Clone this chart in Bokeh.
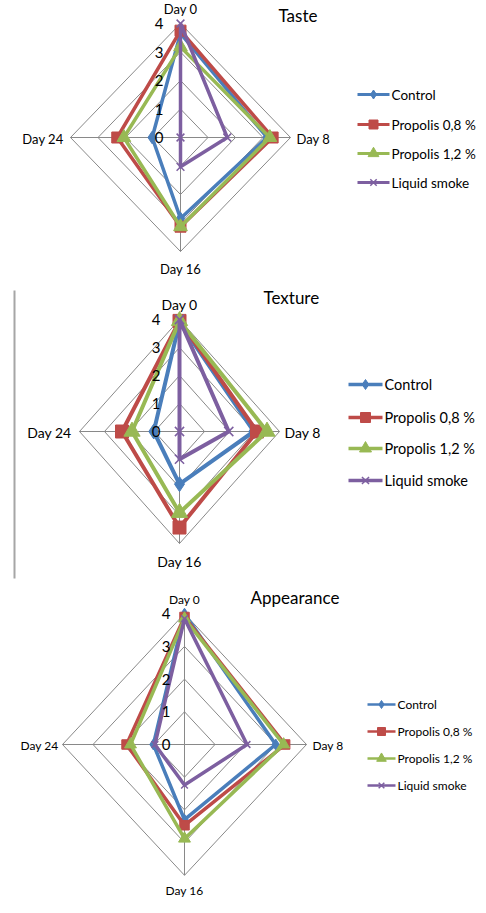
import numpy as np
from bokeh.plotting import figure
from bokeh.layouts import column
from bokeh.models import Range1d
from bokeh.core.properties import value
from bokeh.embed import file_html
from bokeh.resources import INLINE

# ---------------- data ----------------
axes_labels = ["Day 0", "Day 8", "Day 16", "Day 24"]
series_names = ["Control", "Propolis 0,8 %", "Propolis 1,2 %", "Liquid smoke"]
tick_labels = ["0", "1", "2", "3", "4"]

taste_control = [3.65, 3.15, 2.84, 1.03]
taste_propolis08 = [3.75, 3.35, 3.13, 2.30]
taste_propolis12 = [3.18, 3.25, 3.13, 2.06]
taste_smoke = [4.0, 1.70, 1.03, 0.0]

texture_control = [3.9, 2.97, 1.88, 1.03]
texture_propolis08 = [3.95, 3.10, 3.43, 2.30]
texture_propolis12 = [3.95, 3.50, 2.90, 1.90]
texture_smoke = [4.0, 1.97, 0.99, 0.0]

appear_control = [4.0, 2.99, 2.30, 1.02]
appear_propolis08 = [3.9, 3.30, 2.47, 1.90]
appear_propolis12 = [3.85, 3.25, 2.88, 1.77]
appear_smoke = [3.85, 2.05, 1.24, 0.97]

colors = ["#4A7EBB", "#BE4B48", "#98B954", "#7D5FA0"]
markers = ["diamond", "square", "triangle", "x"]
FONT = "Lato"
GRID = "#898989"
W = 486
OFF = 0  # page offset of the layout


def polar(vals):
    ang = np.pi / 2 - np.arange(len(vals)) * np.pi / 2
    v = np.asarray(vals, dtype=float)
    x = np.round(v * np.cos(ang), 9)
    y = np.round(v * np.sin(ang), 9)
    return x, y


def make_chart(title, data, top, height, cx, cy, sx, sy, cfg):
    def X(px):
        return (px - cx) / sx

    def Y(py):
        return (cy - py) / sy

    p = figure(width=W, height=height, output_backend="svg", toolbar_location=None,
               x_range=Range1d(X(OFF), X(OFF + W)), y_range=Range1d(Y(top + height), Y(top)),
               min_border=0)
    p.axis.visible = False
    p.grid.visible = False
    p.outline_line_color = None
    p.background_fill_color = "white"

    # grid diamonds
    for lv in range(1, 5):
        gx, gy = polar([lv] * 4)
        p.line(list(gx) + [gx[0]], list(gy) + [gy[0]], line_color=GRID, line_width=1)
    sx_, sy_ = polar([4] * 4)
    for i in range(4):
        p.line([0, sx_[i]], [0, sy_[i]], line_color=GRID, line_width=1)

    # series
    lw = cfg["lw"]
    for k, vals in enumerate(data):
        x, y = polar(vals)
        p.line(list(x) + [x[0]], list(y) + [y[0]], line_color=colors[k], line_width=lw,
               line_join="round")
        if markers[k] == "x":
            p.scatter(x, y, marker="x", size=cfg["ms"], line_color=colors[k], line_width=1.5)
        else:
            size = cfg["ms"] * (1.25 if markers[k] == "triangle" else (1.15 if markers[k] == "diamond" else 1.0))
            p.scatter(x, y, marker=markers[k], size=size, fill_color=colors[k], line_color=colors[k])

    fs = cfg["fs"]
    # tick labels
    for lv, t in enumerate(tick_labels):
        p.text([X(cx - cfg["tick_dx"])], [lv], text=[t], text_align="right", text_baseline="middle",
               text_font=value(FONT), text_font_size=f"{cfg['tfs']}px", text_color="#000000")

    # category labels
    lab = cfg["labels"]
    p.text([X(cx)], [Y(lab[0])], text=[axes_labels[0]], text_align="center", text_baseline="middle",
           text_font=value(FONT), text_font_size=f"{fs}px", text_color="#000000")
    p.text([X(lab[1][0])], [Y(lab[1][1])], text=[axes_labels[1]], text_align="left", text_baseline="middle",
           text_font=value(FONT), text_font_size=f"{fs}px", text_color="#000000")
    p.text([X(cx)], [Y(lab[2])], text=[axes_labels[2]], text_align="center", text_baseline="middle",
           text_font=value(FONT), text_font_size=f"{fs}px", text_color="#000000")
    p.text([X(lab[3][0])], [Y(lab[3][1])], text=[axes_labels[3]], text_align="right", text_baseline="middle",
           text_font=value(FONT), text_font_size=f"{fs}px", text_color="#000000")

    # title
    p.text([X(cfg["title"][0])], [Y(cfg["title"][1])], text=[title], text_align="left", text_baseline="middle",
           text_font=value(FONT), text_font_size=f"{cfg['title_fs']}px", text_color="#000000")

    # legend
    lx0, lx1 = cfg["leg_x"]
    for k, ry in enumerate(cfg["leg_y"]):
        p.line([X(lx0), X(lx1)], [Y(ry), Y(ry)], line_color=colors[k], line_width=cfg["leg_lw"])
        mx = X((lx0 + lx1) / 2)
        if markers[k] == "x":
            p.scatter([mx], [Y(ry)], marker="x", size=cfg["leg_ms"], line_color=colors[k], line_width=1.5)
        else:
            size = cfg["leg_ms"] * (1.2 if markers[k] == "triangle" else 1.0)
            p.scatter([mx], [Y(ry)], marker=markers[k], size=size, fill_color=colors[k], line_color=colors[k])
        p.text([X(lx1 + 2)], [Y(ry)], text=[series_names[k]], text_align="left", text_baseline="middle",
               text_font=value(FONT), text_font_size=f"{cfg['leg_fs']}px", text_color="#000000")

    if cfg.get("vline"):
        vx, vy0, vy1 = cfg["vline"]
        p.line([X(vx), X(vx)], [Y(vy0), Y(vy1)], line_color="#A6A6A6", line_width=2)
    return p


cfg1 = dict(lw=3.5, ms=11, fs=13, tfs=15, tick_dx=17, title_fs=17,
            labels=[8, (296, 138), 268, (63, 138)], title=(278, 15),
            leg_x=(357, 389), leg_y=[94, 124, 153, 182], leg_lw=3, leg_ms=9, leg_fs=13.5)
cfg2 = dict(lw=4, ms=13, fs=14, tfs=15, tick_dx=19, title_fs=17,
            labels=[304, (284, 432), 561, (71, 432)], title=(263, 297),
            leg_x=(348, 382), leg_y=[384, 417, 448, 480], leg_lw=3.5, leg_ms=10, leg_fs=14.5,
            vline=(14, 290, 578))
cfg3 = dict(lw=3.5, ms=9.5, fs=12, tfs=15, tick_dx=14, title_fs=17,
            labels=[599, (312, 745), 890, (58, 745)], title=(250, 597),
            leg_x=(367, 395), leg_y=[704, 731, 758, 785], leg_lw=2.5, leg_ms=8, leg_fs=12)

p1 = make_chart("Taste", [taste_control, taste_propolis08, taste_propolis12, taste_smoke],
                0, 285, 180, 137, 27.5, 28.5, cfg1)
p2 = make_chart("Texture", [texture_control, texture_propolis08, texture_propolis12, texture_smoke],
                285, 300, 179, 431, 25.0, 28.0, cfg2)
p3 = make_chart("Appearance", [appear_control, appear_propolis08, appear_propolis12, appear_smoke],
                585, 327, 184, 744, 30.5, 32.7, cfg3)

layout = column(p1, p2, p3, spacing=0)
open("out.html", "w").write(file_html(layout, INLINE))
